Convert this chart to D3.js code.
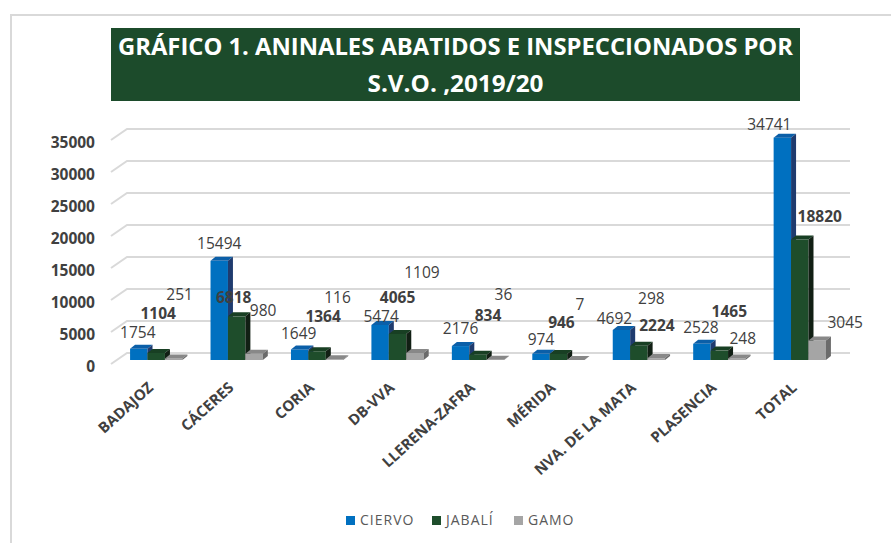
<!DOCTYPE html>
<html>
<head>
<meta charset="utf-8">
<script src="https://cdn.jsdelivr.net/npm/d3@7"></script>
<style>
    body { margin: 0; background: #ffffff; }
    text { font-family: "Open Sans", sans-serif; }
</style>
</head>
<body>
<div id="chart"></div>
<script>
var categories = ["BADAJOZ", "CÁCERES", "CORIA", "DB-VVA", "LLERENA-ZAFRA", "MÉRIDA", "NVA. DE LA MATA", "PLASENCIA", "TOTAL"];
var seriesNames = ["CIERVO", "JABALÍ", "GAMO"];

var ciervo = [1754, 15494, 1649, 5474, 2176, 974, 4692, 2528, 34741];
var jabali = [1104, 6818, 1364, 4065, 834, 946, 2224, 1465, 18820];
var gamo = [251, 980, 116, 1109, 36, 7, 298, 248, 3045];

var yTicks = [0, 5000, 10000, 15000, 20000, 25000, 30000, 35000];
var titleLines = ["GRÁFICO 1. ANINALES ABATIDOS  E INSPECCIONADOS POR", "S.V.O. ,2019/20"];

// where excel left each data label, px from the top of its bar
var labelShift = [
    [[-1, -17], [0, -18], [-1, -16], [1, -9], [0, -18], [0, -15], [-7, -12], [-1, -17], [-13, -14]],
    [[2, -40], [-3, -19], [6, -35], [0, -37], [10, -40], [3, -32], [18, -21], [10, -40], [20, -24]],
    [[6, -64], [9, -44], [3, -62], [7, -81], [8, -66], [4, -56], [-5, -60], [6, -20], [28, -19]]
];

var seriesValues = [ciervo, jabali, gamo];

// front, top, side
var colors = [
    ["#0070c0", "#0b5fa8", "#1f3b6e"],
    ["#1e4d2b", "#183f23", "#111f14"],
    ["#a5a5a5", "#888888", "#6b6b6b"]
];

var width = 891;
var height = 543;

var depthX = 5;
var depthY = -4;

var svg = d3.select("#chart")
    .append("svg")
        .attr("width", width)
        .attr("height", height);

// chart border
svg.append("path")
    .attr("d", "M11,543 L11,15 L891,15")
    .attr("fill", "none")
    .attr("stroke", "#d9d9d9")
    .attr("stroke-width", 2);

// title
svg.append("rect")
    .attr("x", 111)
    .attr("y", 28)
    .attr("width", 689)
    .attr("height", 73)
    .attr("fill", "#1c4b2b");

svg.selectAll("text.title")
    .data(titleLines)
    .enter()
    .append("text")
        .attr("class", "title")
        .attr("x", 455.5)
        .attr("y", function (d, i) { return 55 + i * 37; })
        .attr("text-anchor", "middle")
        .attr("textLength", function (d, i) { return i === 0 ? 675 : 176; })
        .attr("lengthAdjust", "spacingAndGlyphs")
        .style("font-size", "24px")
        .style("font-weight", "bold")
        .style("fill", "#ffffff")
        .text(function (d) { return d; });

var x0 = d3.scaleBand()
    .domain(categories)
    .range([116, 840])
    .paddingInner(0.35)
    .paddingOuter(0.175);

var x1 = d3.scaleBand()
    .domain(seriesNames)
    .range([0, x0.bandwidth()]);

var yScale = d3.scaleLinear()
    .domain([0, 35000])
    .range([353, 129]);

// gridlines, the back wall and the floor edge
svg.append("g")
    .selectAll("path")
    .data(yTicks)
    .enter()
    .append("path")
        .attr("d", function (d) {
            var y = yScale(d);
            return "M111," + (y + 11) + " L127," + y + " L850," + y;
        })
        .attr("fill", "none")
        .attr("stroke", "#d9d9d9")
        .attr("stroke-width", 2);

svg.append("g")
    .selectAll("text")
    .data(yTicks)
    .enter()
    .append("text")
        .attr("x", 95)
        .attr("y", function (d) { return yScale(d) + 13; })
        .attr("text-anchor", "end")
        .attr("dominant-baseline", "central")
        .style("font-size", "15.5px")
        .style("font-weight", "bold")
        .style("fill", "#404040")
        .text(function (d) { return d; });

// bars
var bars = [];
categories.forEach(function (c, ci) {
    seriesNames.forEach(function (s, si) {
        bars.push({ cat: c, ci: ci, si: si, value: seriesValues[si][ci] });
    });
});

function barX(d) { return x0(d.cat) + x1(seriesNames[d.si]); }
function barTop(d) { return yScale(d.value) + 7; }
var barBase = yScale(0) + 7;
var barW = x1.bandwidth();

var barG = svg.append("g")
    .selectAll("g")
    .data(bars)
    .enter()
    .append("g");

barG.append("rect")
    .attr("x", barX)
    .attr("y", barTop)
    .attr("width", barW)
    .attr("height", function (d) { return barBase - barTop(d); })
    .attr("fill", function (d) { return colors[d.si][0]; });

barG.append("path")
    .attr("d", function (d) {
        var x = barX(d), y = barTop(d);
        return "M" + x + "," + y + " L" + (x + depthX) + "," + (y + depthY) +
            " L" + (x + barW + depthX) + "," + (y + depthY) + " L" + (x + barW) + "," + y + "Z";
    })
    .attr("fill", function (d) { return colors[d.si][1]; });

barG.append("path")
    .attr("d", function (d) {
        var x = barX(d) + barW, y = barTop(d);
        return "M" + x + "," + y + " L" + (x + depthX) + "," + (y + depthY) +
            " L" + (x + depthX) + "," + (barBase + depthY) + " L" + x + "," + barBase + "Z";
    })
    .attr("fill", function (d) { return colors[d.si][2]; });

// data labels
svg.append("g")
    .selectAll("text")
    .data(bars)
    .enter()
    .append("text")
        .attr("x", function (d) { return barX(d) + barW / 2 + labelShift[d.si][d.ci][0]; })
        .attr("y", function (d) { return barTop(d) + labelShift[d.si][d.ci][1]; })
        .attr("text-anchor", "middle")
        .attr("dominant-baseline", "central")
        .style("font-size", "15.5px")
        .style("font-weight", function (d) { return d.si === 1 ? "bold" : "normal"; })
        .style("fill", "#404040")
        .text(function (d) { return d.value; });

// category labels
svg.append("g")
    .selectAll("text")
    .data(categories)
    .enter()
    .append("text")
        .attr("transform", function (d) {
            return "translate(" + (x0(d) + x0.bandwidth() / 2 - 2) + ",389)rotate(-42)";
        })
        .attr("text-anchor", "end")
        .style("font-size", "15px")
        .style("font-weight", "bold")
        .style("fill", "#404040")
        .text(function (d) { return d; });

// legend
var legendX = [346, 432, 514];

var legend = svg.append("g")
    .selectAll("g")
    .data(seriesNames)
    .enter()
    .append("g")
        .attr("transform", function (d, i) { return "translate(" + legendX[i] + ",516)"; });

legend.append("rect")
    .attr("width", 9)
    .attr("height", 9)
    .attr("fill", function (d, i) { return colors[i][0]; });

legend.append("text")
    .attr("x", 14)
    .attr("y", 9)
    .style("font-size", "14px")
    .style("letter-spacing", "1px")
    .style("fill", "#595959")
    .text(function (d) { return d; });
</script>
</body>
</html>
